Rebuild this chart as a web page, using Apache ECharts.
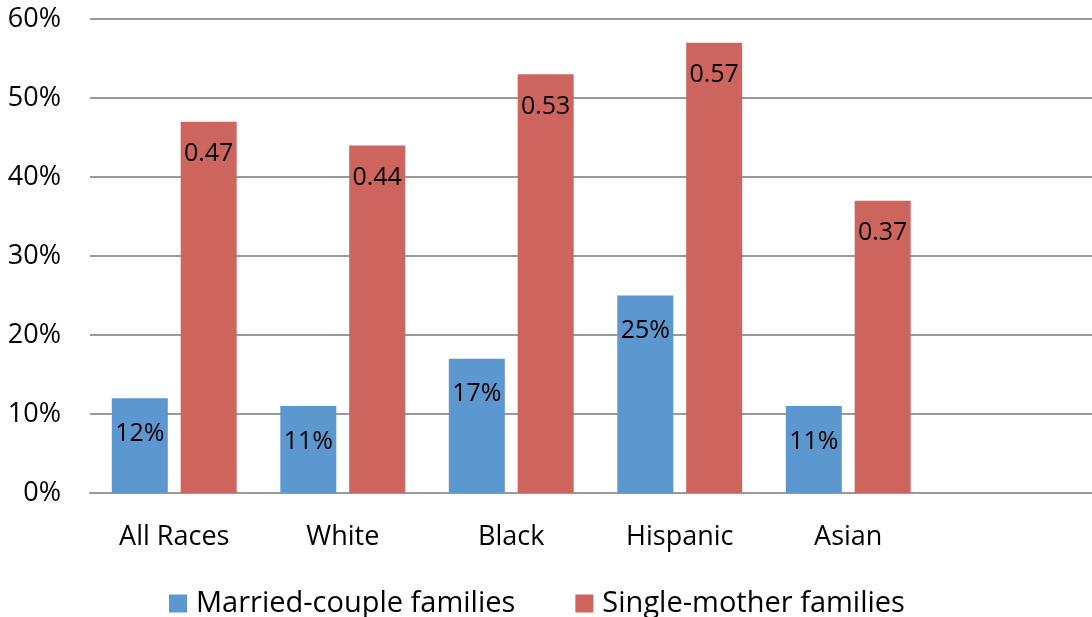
<!DOCTYPE html>
<html>
<head>
<meta charset="utf-8">
<script src="https://cdn.jsdelivr.net/npm/echarts@6/dist/echarts.min.js"></script>
<style>
  html, body { margin: 0; padding: 0; background: #fff; overflow: hidden; }
  #chart { width: 1101px; height: 617px; }
</style>
</head>
<body>
<div id="chart"></div>
<script>
const categories = ['All Races', 'White', 'Black', 'Hispanic', 'Asian', ''];
const marriedCouple = [0.12, 0.11, 0.17, 0.25, 0.11, null];
const singleMother = [0.47, 0.44, 0.53, 0.57, 0.37, null];
const seriesNames = ['Married-couple families', 'Single-mother families'];

const FONT = '"Open Sans", "Noto Sans", sans-serif';
const chart = echarts.init(document.getElementById('chart'), null, { renderer: 'canvas' });

chart.setOption({
  animation: false,
  backgroundColor: '#ffffff',
  textStyle: { fontFamily: FONT },
  grid: { left: 90, right: 0, top: 19, bottom: 124, containLabel: false },
  legend: {
    bottom: -6,
    left: 164,
    itemWidth: 18,
    itemHeight: 18,
    itemGap: 60,
    icon: 'rect',
    textStyle: { fontSize: 29, color: '#000', fontFamily: FONT, padding: [0, 0, 0, 4] },
    data: seriesNames
  },
  xAxis: {
    type: 'category',
    data: categories,
    axisLine: { show: true, lineStyle: { color: '#9a9a9a', width: 2 } },
    axisTick: { show: false },
    axisLabel: { fontSize: 27, color: '#000', margin: 31, fontFamily: FONT }
  },
  yAxis: {
    type: 'value',
    min: 0,
    max: 0.6,
    interval: 0.1,
    axisLine: { show: false },
    axisTick: { show: false },
    splitLine: { lineStyle: { color: '#9a9a9a', width: 2 } },
    axisLabel: {
      fontSize: 27, color: '#000', margin: 29, fontFamily: FONT,
      formatter: v => Math.round(v * 100) + '%'
    }
  },
  series: [
    {
      name: seriesNames[0],
      type: 'bar',
      data: marriedCouple,
      barWidth: 56,
      barGap: '23%',
      itemStyle: { color: '#5d97cf' },
      label: {
        show: true, position: 'insideTop', distance: 23,
        fontSize: 25, color: '#000', fontFamily: FONT,
        formatter: p => Math.round(p.value * 100) + '%'
      }
    },
    {
      name: seriesNames[1],
      type: 'bar',
      data: singleMother,
      barWidth: 56,
      barGap: '23%',
      itemStyle: { color: '#cd655e' },
      label: {
        show: true, position: 'insideTop', distance: 20,
        fontSize: 25, color: '#000', fontFamily: FONT,
        formatter: p => String(p.value)
      }
    }
  ]
});
</script>
</body>
</html>
